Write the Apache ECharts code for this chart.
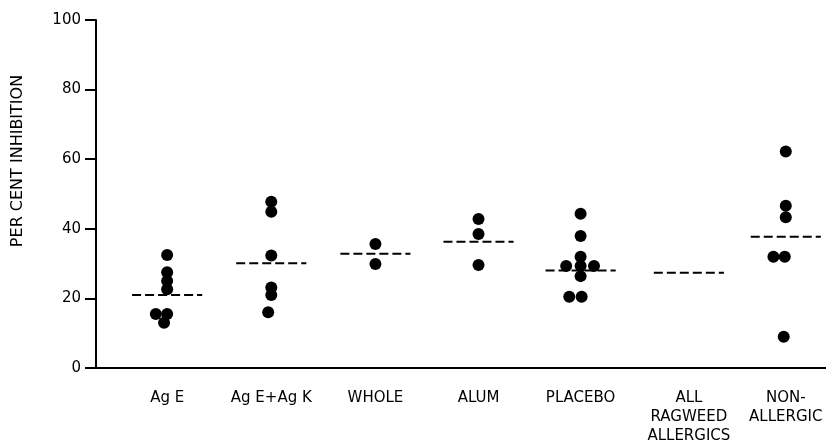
<!DOCTYPE html>
<html>
<head>
<meta charset="utf-8">
<script src="https://cdn.jsdelivr.net/npm/echarts@6/dist/echarts.min.js"></script>
<style>
  html, body { margin: 0; padding: 0; background: #fff; }
  #chart { width: 826px; height: 445px; }
</style>
</head>
<body>
<div id="chart"></div>
<script>
// groups along the x axis (value axis, one unit per group)
const categories = ['Ag E', 'Ag E+Ag K', 'WHOLE', 'ALUM', 'PLACEBO', 'ALL\nRAGWEED\nALLERGICS', 'NON-\nALLERGIC']
const groupX = [0, 1.01, 2.02, 3.02, 4.01, 5.06, 6.0]
const yTicks = [0, 20, 40, 60, 80, 100]

// individual subjects: [x, per cent inhibition]
const agE = [[0, 32.5], [0, 27.5], [0, 25.0], [0, 22.6], [-0.11, 15.5], [0, 15.5], [-0.03, 13.0]]
const agEAgK = [[1.01, 47.8], [1.01, 44.9], [1.01, 32.3], [1.01, 23.1], [1.01, 21.0], [0.98, 16.0]]
const whole = [[2.02, 35.6], [2.02, 29.9]]
const alum = [[3.02, 42.8], [3.02, 38.5], [3.02, 29.6]]
const placebo = [[4.01, 44.3], [4.01, 37.9], [4.01, 32.0], [3.87, 29.3], [4.01, 29.3], [4.14, 29.3],
  [4.01, 26.4], [3.90, 20.5], [4.02, 20.5]]
const nonAllergic = [[6.0, 62.2], [6.0, 46.6], [6.0, 43.3], [5.88, 32.0], [5.99, 32.0], [5.98, 9.0]]

// group means (dashed lines)
const means = [21.0, 30.1, 32.8, 36.3, 28.0, 27.4, 37.7]

const ink = '#000'
const font = 'DejaVu Sans'

let series = []
means.forEach((m, i) => {
  series.push({
    type: 'line',
    symbol: 'none',
    z: 2,
    lineStyle: { color: ink, width: 2, type: [9, 4] },
    data: [[groupX[i] - 0.34, m], [groupX[i] + 0.34, m]]
  })
})
series.push({
  type: 'scatter',
  symbol: 'circle',
  symbolSize: 12,
  z: 3,
  itemStyle: { color: ink, opacity: 1 },
  data: [].concat(agE, agEAgK, whole, alum, placebo, nonAllergic)
})

const chart = echarts.init(document.getElementById('chart'))
chart.setOption({
  animation: false,
  backgroundColor: '#fff',
  grid: {
    left: 96,
    right: 0,
    top: 20,
    bottom: 77,
    outerBoundsMode: 'none'
  },
  xAxis: {
    type: 'value',
    min: -0.69,
    max: 6.39,
    axisLine: { show: true, onZero: false, lineStyle: { color: ink, width: 2 } },
    axisTick: { show: false },
    splitLine: { show: false },
    axisLabel: {
      customValues: groupX,
      margin: 21,
      color: ink,
      fontFamily: font,
      fontSize: 15,
      lineHeight: 19,
      formatter: (v) => categories[groupX.indexOf(v)]
    }
  },
  yAxis: {
    type: 'value',
    min: 0,
    max: 100,
    interval: 20,
    name: 'PER CENT INHIBITION',
    nameLocation: 'middle',
    nameGap: 70,
    nameTextStyle: {
      color: ink,
      fontFamily: font,
      fontSize: 16,
      padding: [0, 0, 0, 66]
    },
    axisLine: { show: true, onZero: false, lineStyle: { color: ink, width: 2 } },
    axisTick: { show: true, length: 11, lineStyle: { color: ink, width: 2 } },
    splitLine: { show: false },
    axisLabel: {
      margin: 15,
      color: ink,
      fontFamily: font,
      fontSize: 15,
      formatter: (v) => (yTicks.indexOf(v) >= 0 ? String(v) : '')
    }
  },
  series: series
})
</script>
</body>
</html>
